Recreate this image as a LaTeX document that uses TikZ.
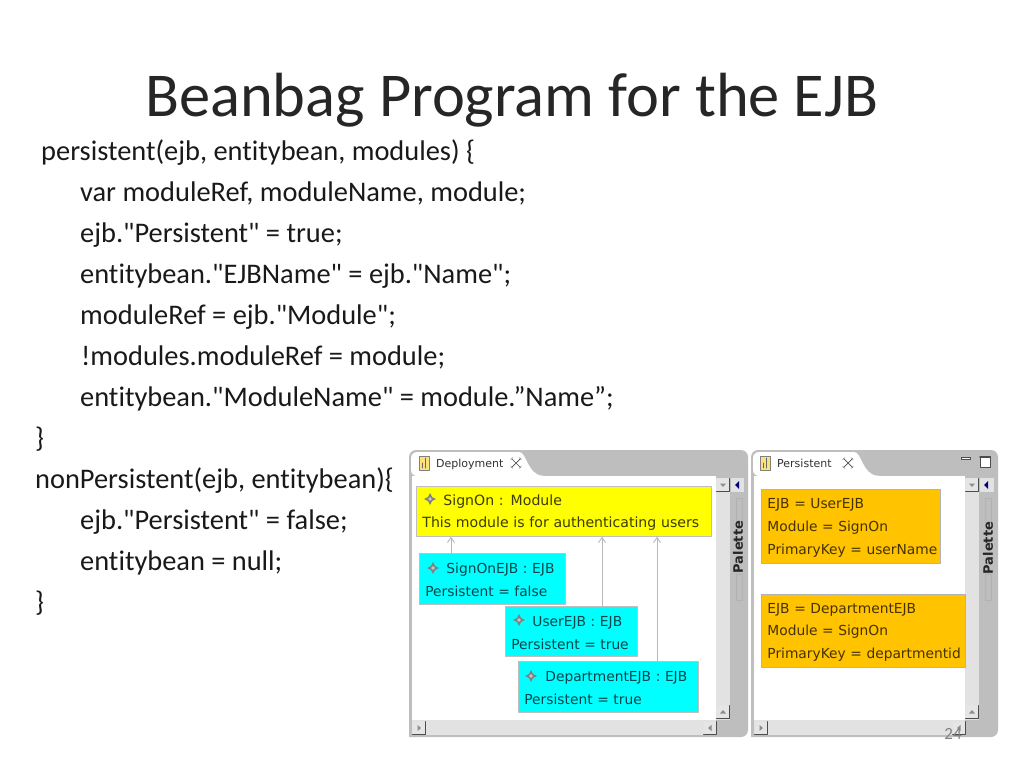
\documentclass[tikz,border=0pt]{standalone}
\usepackage{fontspec}
\setmainfont{Carlito}[Ligatures={NoCommon,TeXOff}]
\newfontfamily\uifont{DejaVu Sans}[WordSpace=1.3]
\usetikzlibrary{arrows.meta,positioning,calc}
\definecolor{panelgray}{RGB}{190,190,190}
\definecolor{hatchgray}{RGB}{226,226,226}
\definecolor{edgegray}{RGB}{165,165,165}
\definecolor{yellowbox}{RGB}{255,255,0}
\definecolor{cyanbox}{RGB}{0,255,255}
\definecolor{orangebox}{RGB}{255,195,0}
\definecolor{yellowtext}{RGB}{60,60,0}
\definecolor{cyantext}{RGB}{0,70,75}
\definecolor{orangetext}{RGB}{70,50,0}
\tikzset{
    title/.style={anchor=base west,inner sep=0pt,font=\fontsize{62.4}{66}\selectfont,text=black!85},
    codeline/.style={anchor=base west,inner sep=0pt,font=\fontsize{28.4}{32}\selectfont,text=black!90},
    uibox/.style={anchor=north west,inner sep=0pt,draw=black!25,line width=0.8pt,align=left,
        execute at begin node={\rule{0pt}{13pt}},
        font=\uifont\fontsize{13.8}{22.7}\selectfont},
    tablabel/.style={anchor=base west,inner sep=0pt,font=\uifont\fontsize{11}{13}\selectfont,text=black!80},
    palettelabel/.style={inner sep=0pt,rotate=90,font=\uifont\bfseries\fontsize{13}{15}\selectfont,text=black!85},
    moduleref/.style={-{Straight Barb[length=5pt,width=7pt]},line width=0.9pt,draw=black!28},
}
% little gem in front of a box title
\newcommand{\drawGem}[1]{
    \begin{scope}[shift={(#1)}]
        \fill[black!50] (-6,0) -- (-2,2) -- (0,6) -- (2,2) -- (6,0) -- (2,-2) -- (0,-6) -- (-2,-2) -- cycle;
        \fill[black!22] (0,0) circle (1.8);
    \end{scope}
}
% square scroll button, #2 turns the tip
\newcommand{\drawScrollBtn}[2]{
    \begin{scope}[shift={(#1)}]
        \fill[black!10] (-6.5,-6.5) rectangle (6.5,6.5);
        \draw[black!70,line width=1pt] (-6.5,6.5) -- (6.5,6.5) -- (6.5,-6.5);
        \fill[black!45,rotate=#2] (-3,-1.5) -- (3,-1.5) -- (0,2) -- cycle;
    \end{scope}
}
% editor panel: #1 left, #2 right of panel, #3 right of canvas, #4 right of tab
\newcommand{\drawPanel}[4]{
    \fill[panelgray,rounded corners=7pt] (#1,737) -- (#1,450) -- (#2,450) -- (#2,737) [sharp corners] -- cycle;
    \fill[white] (#1+3,476) rectangle (#3,720);
    \fill[white,rounded corners=6pt] (#1+2,476) -- (#1+2,452) -- (#4-22,452)
        .. controls (#4-8,452) and (#4-8,475) .. (#4+14,476) -- cycle;
    \fill[hatchgray] (#3,478) rectangle (#3+14,720);
    \fill[hatchgray] (#1+3,720) rectangle (#3,735);
    \drawScrollBtn{#3+7,485}{0}
    \drawScrollBtn{#3+7,712}{180}
    \drawScrollBtn{#1+10,728}{90}
    \drawScrollBtn{#3-6,728}{-90}
    \fill[hatchgray] (#3+15,478) rectangle (#2-4,492);
    \fill[blue!50!black] (#3+19,485) -- (#3+23,481) -- (#3+23,489) -- cycle;
    \draw[black!30,line width=0.5pt] (#3+20,498) rectangle (#3+26,522);
    \draw[black!30,line width=0.5pt] (#3+20,574) rectangle (#3+26,600);
}
% document icon on a tab
\newcommand{\drawTabIcon}[1]{
    \begin{scope}[shift={(#1)}]
        \fill[yellow!60!orange!50,draw=black!50,line width=0.6pt] (-5,-7) rectangle (5,7);
        \draw[black!60,line width=0.8pt] (1,-5) -- (1,5) (-1.5,0) -- (-1.5,5);
    \end{scope}
}
% close cross on a tab
\newcommand{\drawTabClose}[1]{
    \begin{scope}[shift={(#1)}]
        \draw[black!70,line width=0.7pt] (-4.5,-4.5) -- (4.5,4.5) (-4.5,4.5) -- (4.5,-4.5);
        \draw[black!40,line width=0.5pt] (-5.5,-3) -- (-3,-5.5) (3,-5.5) -- (5.5,-3) (5.5,3) -- (3,5.5) (-3,5.5) -- (-5.5,3);
    \end{scope}
}
\begin{document}
\begin{tikzpicture}[x=1pt,y=-1pt,line cap=round,line join=round,>=Stealth]
    \useasboundingbox (0,0) rectangle (1024,768);
    \fill[white] (0,0) rectangle (1024,768);

    % --- Slide text ---
    \node[title] (heading) at (145,116) {Beanbag Program for the EJB};

    \node[codeline] (persistentHead) at (41,160) {persistent(ejb, entitybean, modules) \{};
    \node[codeline] (varLine) at (80,201) {var moduleRef, moduleName, module;};
    \node[codeline] (trueLine) at (80,242) {ejb."Persistent" = true;};
    \node[codeline] (nameLine) at (80,283) {entitybean."EJBName" = ejb."Name";};
    \node[codeline] (refLine) at (80,324) {moduleRef = ejb."Module";};
    \node[codeline] (modulesLine) at (81,365) {!modules.moduleRef = module;};
    \node[codeline] (moduleNameLine) at (80,406) {entitybean."ModuleName" = module.”Name”;};
    \node[codeline] (persistentEnd) at (35,447) {\}};
    \node[codeline] (nonPersistentHead) at (35,488) {nonPersistent(ejb, entitybean)\{};
    \node[codeline] (falseLine) at (80,529) {ejb."Persistent" = false;};
    \node[codeline] (nullLine) at (80,570) {entitybean = null;};
    \node[codeline] (nonPersistentEnd) at (35,611) {\}};

    % --- Deployment panel ---
    \drawPanel{409}{748}{716}{535}
    \drawTabIcon{424,463}
    \node[tablabel] (deploymentTab) at (436,467) {Deployment};
    \drawTabClose{516,463}
    \node[palettelabel] (paletteLeft) at (738,547) {Palette};

    \node[uibox,fill=yellowbox,text=yellowtext,minimum width=295pt,minimum height=50pt,text width=283pt,font=\uifont\fontsize{14.1}{22.7}\selectfont] (signOn) at (416,486)
        {\hspace*{21pt}SignOn : Module\\\mbox{This module is for authenticating users}};
    \node[uibox,fill=cyanbox,text=cyantext,minimum width=146pt,minimum height=51pt,text width=134pt] (signOnEjb) at (419,553)
        {\hspace*{21pt}\mbox{SignOnEJB : EJB}\\Persistent = false};
    \node[uibox,fill=cyanbox,text=cyantext,minimum width=132pt,minimum height=50pt,text width=120pt] (userEjb) at (505,606)
        {\hspace*{21pt}UserEJB : EJB\\Persistent = true};
    \node[uibox,fill=cyanbox,text=cyantext,minimum width=180pt,minimum height=51pt,text width=168pt] (departmentEjb) at (518,661)
        {\hspace*{21pt}\mbox{DepartmentEJB : EJB}\\Persistent = true};

    \drawGem{430,499}
    \drawGem{433,568}
    \drawGem{519,620}
    \drawGem{531,676}

    % Module references
    \draw[moduleref] (signOnEjb.north -| 451,0) -- (signOn.south -| 451,0);
    \draw[moduleref] (userEjb.north -| 602,0) -- (signOn.south -| 602,0);
    \draw[moduleref] (departmentEjb.north -| 657,0) -- (signOn.south -| 657,0);

    % --- Persistent panel ---
    \drawPanel{751}{998}{965}{870}
    \drawTabIcon{765,463}
    \node[tablabel] (persistentTab) at (777,467) {Persistent};
    \drawTabClose{848,463}
    \node[palettelabel] (paletteRight) at (988,548) {Palette};

    % minimize and maximize
    \draw[black!70,fill=white,line width=0.8pt] (961,457) rectangle (970,459);
    \draw[black!70,fill=white,line width=0.8pt] (980,456) rectangle (990,467);
    \draw[black!70,line width=1.4pt] (980,457) -- (990,457);

    \node[uibox,fill=orangebox,draw=black!30,text=orangetext,minimum width=179pt,minimum height=74pt,text width=167pt] (userBean) at (761,489)
        {EJB = UserEJB\\Module = SignOn\\\mbox{PrimaryKey = userName}};
    \node[uibox,fill=orangebox,draw=black!30,text=orangetext,minimum width=204pt,minimum height=73pt,text width=192pt] (departmentBean) at (761,594)
        {EJB = DepartmentEJB\\Module = SignOn\\\mbox{PrimaryKey = departmentid}};

    % slide number
    \node[anchor=base,inner sep=0pt,font=\fontsize{17}{20}\selectfont,text=black!50] (slideNumber) at (953,739) {24};
\end{tikzpicture}
\end{document}
